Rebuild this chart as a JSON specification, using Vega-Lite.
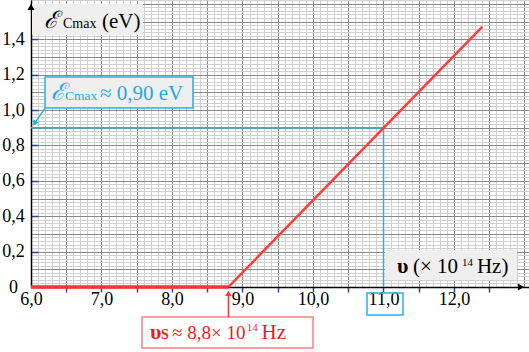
{
  "$schema": "https://vega.github.io/schema/vega-lite/v6.json",
  "width": 498,
  "height": 287,
  "autosize": {"type": "none"},
  "padding": {"left": 31, "top": 0, "right": 0, "bottom": 65},
  "background": "white",
  "config": {"view": {"stroke": null}, "font": "Liberation Serif", "axis": {"labelFont": "Liberation Serif", "labelFontSize": 18}},
  "encoding": {
    "x": {"field": "x", "type": "quantitative", "scale": {"domain": [6, 13.064], "nice": false, "zero": false}, "axis": null},
    "y": {"field": "y", "type": "quantitative", "scale": {"domain": [0, 1.6215], "nice": false, "zero": false}, "axis": null}
  },
  "layer": [
    {
      "data": {"values": [{"x": 6, "y": 0}]},
      "mark": {"type": "point", "opacity": 0},
      "encoding": {
        "x": {"field": "x", "type": "quantitative", "scale": {"domain": [6, 13.064], "nice": false, "zero": false},
          "axis": {"orient": "bottom", "grid": true, "gridColor": "#d0d0d0", "gridWidth": 1, "tickCount": 70, "labels": false, "ticks": false, "domain": false, "title": null}},
        "y": {"field": "y", "type": "quantitative", "scale": {"domain": [0, 1.6215], "nice": false, "zero": false},
          "axis": {"orient": "left", "grid": true, "gridColor": "#d0d0d0", "gridWidth": 1, "tickCount": 80, "labels": false, "ticks": false, "domain": false, "title": null}}
      }
    },
    {
      "data": {"values": [{"x": 6, "y": 0}]},
      "mark": {"type": "point", "opacity": 0},
      "encoding": {
        "x": {"field": "x", "type": "quantitative", "scale": {"domain": [6, 13.064], "nice": false, "zero": false},
          "axis": {"orient": "bottom", "grid": true, "gridColor": "#888888", "gridWidth": 1, "tickCount": 14, "labels": false, "ticks": false, "domain": false, "title": null}},
        "y": {"field": "y", "type": "quantitative", "scale": {"domain": [0, 1.6215], "nice": false, "zero": false},
          "axis": {"orient": "left", "grid": true, "gridColor": "#888888", "gridWidth": 1, "tickCount": 16, "labels": false, "ticks": false, "domain": false, "title": null}}
      }
    },
    {
      "data": {"values": [{"x": 6.014, "x2": 7.589, "y": 1.6, "y2": 1.424}, {"x": 11.021, "x2": 12.894, "y": 0.209, "y2": 0.04}]},
      "mark": {"type": "rect", "fill": "#efefef"},
      "encoding": {"x2": {"field": "x2"}, "y2": {"field": "y2"}}
    },
    {
      "data": {"values": [{"x": 6.199, "x2": 8.298, "y": 1.186, "y2": 1.011}]},
      "mark": {"type": "rect", "fill": "#efefef", "stroke": "#29b0e6", "strokeWidth": 1.5},
      "encoding": {"x2": {"field": "x2"}, "y2": {"field": "y2"}}
    },
    {
      "data": {"values": [{"x": 7.574, "x2": 10.0, "y": -0.169, "y2": -0.345}]},
      "mark": {"type": "rect", "fill": "white", "stroke": "#ff7f7f", "strokeWidth": 1.5},
      "encoding": {"x2": {"field": "x2"}, "y2": {"field": "y2"}}
    },
    {
      "data": {"values": [{"x": 10.766, "x2": 11.277, "y": -0.034, "y2": -0.158}]},
      "mark": {"type": "rect", "filled": false, "stroke": "#29b0e6", "strokeWidth": 1.5},
      "encoding": {"x2": {"field": "x2"}, "y2": {"field": "y2"}}
    },
    {
      "data": {"values": [{"x": 6, "y": 0}]},
      "mark": {"type": "point", "opacity": 0},
      "encoding": {
        "x": {"field": "x", "type": "quantitative", "scale": {"domain": [6, 13.064], "nice": false, "zero": false},
          "axis": {"orient": "bottom", "values": [6.5, 7, 7.5, 8, 8.5, 9, 9.5, 10, 10.5, 11, 11.5, 12, 12.5], "grid": false, "labels": false, "ticks": true, "tickColor": "#2d4b8c", "tickWidth": 1.5, "tickSize": 5, "domain": false, "title": null}},
        "y": {"field": "y", "type": "quantitative", "scale": {"domain": [0, 1.6215], "nice": false, "zero": false},
          "axis": {"orient": "left", "values": [0.2, 0.4, 0.6, 0.8, 1.0, 1.2, 1.4], "grid": false, "labels": false, "ticks": true, "tickColor": "#2d4b8c", "tickWidth": 1.5, "tickSize": -7, "domain": false, "title": null}}
      }
    },
    {
      "data": {"values": [{"x": 6, "x2": 11, "y": 0.9, "y2": 0.9}, {"x": 11, "x2": 11, "y": 0, "y2": 0.9}, {"x": 6.199, "x2": 6.06, "y": 1.011, "y2": 0.93}]},
      "mark": {"type": "rule", "color": "#29b0e6", "strokeWidth": 1.5},
      "encoding": {"x2": {"field": "x2"}, "y2": {"field": "y2"}}
    },
    {
      "data": {"values": [{"x": 6, "y": 0}]},
      "mark": {"type": "point", "opacity": 0},
      "encoding": {
        "x": {"field": "x", "type": "quantitative", "scale": {"domain": [6, 13.064], "nice": false, "zero": false},
          "axis": {"orient": "bottom", "values": [6, 7, 8, 9, 10, 11, 12], "grid": false, "labels": true, "ticks": false, "domain": true, "domainColor": "black", "domainWidth": 1.5, "title": null,
            "labelExpr": "replace(format(datum.value,'.1f'),'.',',')", "labelFont": "Liberation Serif", "labelFontSize": 18, "labelColor": "black", "labelPadding": 3, "labelOverlap": false, "labelFlush": false}},
        "y": {"field": "y", "type": "quantitative", "scale": {"domain": [0, 1.6215], "nice": false, "zero": false},
          "axis": {"orient": "left", "values": [0, 0.2, 0.4, 0.6, 0.8, 1.0, 1.2, 1.4], "grid": false, "labels": true, "ticks": false, "domain": true, "domainColor": "black", "domainWidth": 1.5, "title": null,
            "labelExpr": "datum.value == 0 ? '0' : replace(format(datum.value,'.1f'),'.',',')", "labelFont": "Liberation Serif", "labelFontSize": 18, "labelColor": "black", "labelAlign": "center", "labelPadding": 18, "labelOverlap": false, "labelFlush": false}}
      }
    },
    {
      "data": {"values": [{"x": 6, "x2": 8.8, "y": 0, "y2": 0}]},
      "mark": {"type": "rule", "color": "#ff3333", "strokeWidth": 3.5},
      "encoding": {"x2": {"field": "x2"}, "y2": {"field": "y2"}}
    },
    {
      "data": {"values": [{"x": 8.8, "x2": 12.4, "y": 0, "y2": 1.47}]},
      "mark": {"type": "rule", "color": "#ff3b3b", "strokeWidth": 2.5},
      "encoding": {"x2": {"field": "x2"}, "y2": {"field": "y2"}}
    },
    {
      "data": {"values": [{"x": 8.8, "x2": 8.8, "y": -0.169, "y2": -0.03}]},
      "mark": {"type": "rule", "color": "#ff3333", "strokeWidth": 1.5},
      "encoding": {"x2": {"field": "x2"}, "y2": {"field": "y2"}}
    },
    {
      "data": {"values": [{"x": 8.8, "y": -0.036}]},
      "mark": {"type": "point", "shape": "triangle-up", "filled": true, "color": "#ff3333", "size": 40, "opacity": 1}
    },
    {
      "data": {"values": [{"x": 6.05, "y": 0.925}]},
      "mark": {"type": "point", "shape": "triangle-up", "angle": 211, "filled": true, "color": "#29b0e6", "size": 40, "opacity": 1}
    },
    {
      "data": {"values": [{"x": 6, "y": 1.583}]},
      "mark": {"type": "point", "shape": "triangle-up", "filled": true, "color": "black", "size": 50, "opacity": 1}
    },
    {
      "data": {"values": [{"x": 12.95, "y": 0}]},
      "mark": {"type": "point", "shape": "triangle-right", "filled": true, "color": "black", "size": 50, "opacity": 1}
    },
    {
      "data": {"values": [{"x": 6.185, "y": 1.463, "t": "ℰ"}]},
      "mark": {"type": "text", "align": "left", "baseline": "alphabetic", "font": "Liberation Serif", "fontStyle": "italic", "fontSize": 24, "color": "black"},
      "encoding": {"text": {"field": "t"}}
    },
    {
      "data": {"values": [{"x": 6.454, "y": 1.463, "t": "Cmax"}]},
      "mark": {"type": "text", "align": "left", "baseline": "alphabetic", "font": "Liberation Serif", "fontSize": 14, "color": "black"},
      "encoding": {"text": {"field": "t"}}
    },
    {
      "data": {"values": [{"x": 7.007, "y": 1.463, "t": "(eV)"}, {"x": 11.418, "y": 0.079, "t": "(× 10"}, {"x": 12.325, "y": 0.079, "t": "Hz)"}]},
      "mark": {"type": "text", "align": "left", "baseline": "alphabetic", "font": "Liberation Serif", "fontSize": 21, "color": "black"},
      "encoding": {"text": {"field": "t"}}
    },
    {
      "data": {"values": [{"x": 11.191, "y": 0.079, "t": "υ"}]},
      "mark": {"type": "text", "align": "left", "baseline": "alphabetic", "font": "Liberation Serif", "fontWeight": "bold", "fontSize": 22, "color": "black"},
      "encoding": {"text": {"field": "t"}}
    },
    {
      "data": {"values": [{"x": 12.113, "y": 0.119, "t": "14"}]},
      "mark": {"type": "text", "align": "left", "baseline": "alphabetic", "font": "Liberation Serif", "fontSize": 11, "color": "black"},
      "encoding": {"text": {"field": "t"}}
    },
    {
      "data": {"values": [{"x": 6.28, "y": 1.056, "t": "ℰ"}]},
      "mark": {"type": "text", "align": "left", "baseline": "alphabetic", "font": "Liberation Serif", "fontStyle": "italic", "fontSize": 24, "color": "#1eaae6"},
      "encoding": {"text": {"field": "t"}}
    },
    {
      "data": {"values": [{"x": 6.482, "y": 1.056, "t": "Cmax"}]},
      "mark": {"type": "text", "align": "left", "baseline": "alphabetic", "font": "Liberation Serif", "fontSize": 13.5, "color": "#1eaae6"},
      "encoding": {"text": {"field": "t"}}
    },
    {
      "data": {"values": [{"x": 6.979, "y": 1.056, "t": "≈ 0,90 eV"}]},
      "mark": {"type": "text", "align": "left", "baseline": "alphabetic", "font": "Liberation Serif", "fontSize": 21, "color": "#1eaae6"},
      "encoding": {"text": {"field": "t"}}
    },
    {
      "data": {"values": [{"x": 7.688, "y": -0.294, "t": "υ"}]},
      "mark": {"type": "text", "align": "left", "baseline": "alphabetic", "font": "Liberation Serif", "fontWeight": "bold", "fontSize": 22, "color": "#ee1c1c"},
      "encoding": {"text": {"field": "t"}}
    },
    {
      "data": {"values": [{"x": 7.844, "y": -0.294, "t": "S"}]},
      "mark": {"type": "text", "align": "left", "baseline": "alphabetic", "font": "Liberation Serif", "fontWeight": "bold", "fontSize": 14, "color": "#ee1c1c"},
      "encoding": {"text": {"field": "t"}}
    },
    {
      "data": {"values": [{"x": 8.0, "y": -0.294, "t": "≈ 8,8× 10"}]},
      "mark": {"type": "text", "align": "left", "baseline": "alphabetic", "font": "Liberation Serif", "fontSize": 19, "color": "#ee1c1c"},
      "encoding": {"text": {"field": "t"}}
    },
    {
      "data": {"values": [{"x": 9.27, "y": -0.294, "t": "Hz"}]},
      "mark": {"type": "text", "align": "left", "baseline": "alphabetic", "font": "Liberation Serif", "fontSize": 21, "color": "#ee1c1c"},
      "encoding": {"text": {"field": "t"}}
    },
    {
      "data": {"values": [{"x": 9.06, "y": -0.249, "t": "14"}]},
      "mark": {"type": "text", "align": "left", "baseline": "alphabetic", "font": "Liberation Serif", "fontSize": 11, "color": "#ee1c1c"},
      "encoding": {"text": {"field": "t"}}
    }
  ],
  "resolve": {"axis": {"x": "independent", "y": "independent"}}
}
